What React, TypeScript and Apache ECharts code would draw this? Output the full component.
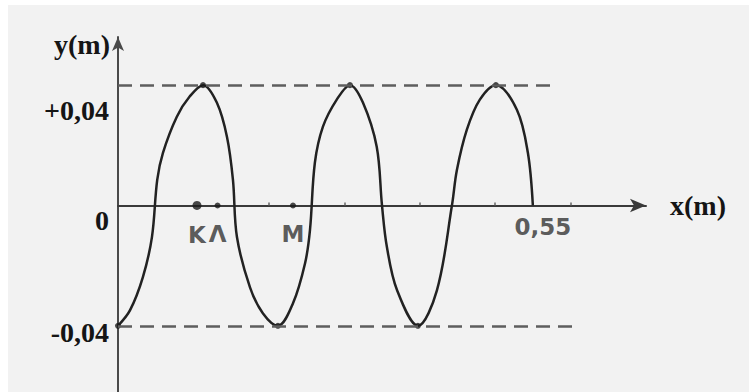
import React, { useEffect, useRef } from "react";
import * as echarts from "echarts";

// Wave profile y(x), sampled along the drawn curve
const curveX = [
  0, 0.016, 0.033, 0.045, 0.052, 0.0596, 0.078, 0.095, 0.1127, 0.131, 0.1445,
  0.1524, 0.1577, 0.175, 0.192, 0.212, 0.232, 0.248, 0.2545, 0.261, 0.2717,
  0.29, 0.3075, 0.3247, 0.343, 0.35, 0.3565, 0.37, 0.3976, 0.4228, 0.4427,
  0.4493, 0.4625, 0.4797, 0.501, 0.5288, 0.5434, 0.55,
];
const curveY = [
  -0.04, -0.0348, -0.0238, -0.0105, 0.0085, 0.0175, 0.0295, 0.0362, 0.04,
  0.0342, 0.0228, 0.0085, -0.0105, -0.0272, -0.0358, -0.04, -0.0325, -0.0192,
  -0.0082, 0.0142, 0.0262, 0.0352, 0.04, 0.0342, 0.0195, 0, -0.0138, -0.0282,
  -0.04, -0.0282, 0, 0.0118, 0.0252, 0.0352, 0.04, 0.0318, 0.0175, 0,
];

// Crests and troughs marked with a dot
const extremaX = [0, 0.1127, 0.212, 0.3075, 0.3976, 0.501];
const extremaY = [-0.04, 0.04, -0.04, 0.04, -0.04, 0.04];

// Named points on the x axis
const pointNames = ["K", "Λ", "M"];
const pointX = [0.1047, 0.132, 0.232];
const pointSizes = [9, 6, 6];

// Amplitude guide lines (level, end of the dashed line)
const guideLevels = [0.04, -0.04];
const guideEnds = [0.573, 0.603];

// Axis ticks and labels
const yTickValues = [0.04, 0, -0.04];
const yTickLabels = ["+0,04", "0", "-0,04"];
const xTickMarks = [0.2, 0.3, 0.4, 0.5, 0.6];
const xLabelValues = [0.55];
const xLabelTexts = ["0,55"];

const serifBold = {
  fontFamily: "Liberation Serif",
  fontWeight: "bold" as const,
  fontSize: 28,
  color: "#151515",
};

const handFont = {
  fontFamily: "DejaVu Sans",
  color: "#333",
};

export default function App() {
  const ref = useRef<HTMLDivElement>(null);

  useEffect(() => {
    if (!ref.current) return;
    const chart = echarts.init(ref.current, undefined, { renderer: "svg" });

    const yShift = [50, 30, 14];
    const rich: Record<string, object> = {};
    yShift.forEach((p, i) => {
      rich["p" + i] = { ...serifBold, padding: [p, 0, 0, 0] };
    });

    chart.setOption({
      animation: false,
      backgroundColor: "transparent",
      grid: {
        left: 118,
        right: 103,
        top: 37,
        bottom: 0,
        containLabel: false,
        outerBoundsMode: "none",
      },
      xAxis: {
        type: "value",
        min: 0,
        max: 0.7,
        name: "x(m)",
        nameLocation: "end",
        nameGap: 24,
        nameTextStyle: {
          ...serifBold,
          align: "left",
          verticalAlign: "middle",
          padding: [36, 0, 0, 0],
        },
        axisLine: {
          show: true,
          onZero: true,
          symbol: ["none", "arrow"],
          symbolSize: [10, 16],
          lineStyle: { color: "#3a3a3a", width: 2 },
        },
        axisTick: {
          show: true,
          inside: true,
          length: 3,
          customValues: xTickMarks,
          lineStyle: { color: "#666", width: 1.5 },
        },
        axisLabel: { show: false },
        splitLine: { show: false },
      },
      yAxis: {
        type: "value",
        min: -0.062,
        max: 0.056,
        name: "y(m)",
        nameLocation: "end",
        nameGap: -7,
        nameTextStyle: {
          ...serifBold,
          align: "right",
          verticalAlign: "middle",
          padding: [0, 8, 0, 0],
        },
        axisLine: {
          show: true,
          onZero: false,
          symbol: ["none", "arrow"],
          symbolSize: [9, 14],
          lineStyle: { color: "#4a4a4a", width: 2 },
        },
        axisTick: { show: false },
        axisLabel: {
          show: true,
          customValues: yTickValues,
          margin: 9,
          formatter: (v: number) => {
            const i = yTickValues.findIndex((y) => Math.abs(y - v) < 1e-9);
            return i >= 0 ? `{p${i}|${yTickLabels[i]}}` : "";
          },
          rich,
        },
        splitLine: { show: false },
      },
      series: [
        {
          type: "line",
          data: curveX.map((x, i) => [x, curveY[i]]),
          smooth: 0.35,
          showSymbol: false,
          lineStyle: { color: "#222", width: 2.5 },
          z: 3,
          markLine: {
            silent: true,
            symbol: ["none", "none"],
            label: { show: false },
            lineStyle: { color: "#5e5e5e", width: 2.5, type: [14, 8] },
            data: guideLevels.map((lv, i) => [
              { coord: [0, lv] },
              { coord: [guideEnds[i], lv] },
            ]),
          },
        },
        {
          type: "scatter",
          data: extremaX.map((x, i) => [x, extremaY[i]]),
          symbolSize: 6,
          itemStyle: { color: "#1a1a1a" },
          z: 4,
        },
        {
          type: "scatter",
          data: pointX.map((x, i) => ({
            value: [x, 0],
            name: pointNames[i],
            symbolSize: pointSizes[i],
          })),
          itemStyle: { color: "#1a1a1a" },
          label: {
            show: true,
            position: "bottom",
            distance: 14,
            formatter: (p: { name: string }) => p.name,
            ...handFont,
            fontWeight: "bold",
            fontSize: 23,
          },
          z: 5,
        },
        {
          // length marker written under the end of the wave
          type: "scatter",
          data: xLabelValues.map((x, i) => ({ value: [x, 0], name: xLabelTexts[i] })),
          symbolSize: 2,
          itemStyle: { color: "rgba(0,0,0,0)" },
          label: {
            show: true,
            position: "bottom",
            distance: 9,
            offset: [10, 0],
            formatter: (p: { name: string }) => p.name,
            ...handFont,
            fontWeight: "bold",
            fontSize: 23,
          },
          z: 5,
        },
      ],
    });

    return () => chart.dispose();
  }, []);

  return (
    <div
      style={{
        position: "fixed",
        left: 0,
        top: 0,
        width: 749,
        height: 392,
        background: "#ffffff",
      }}
    >
      <div
        style={{
          position: "absolute",
          left: 8,
          top: 5,
          right: 0,
          bottom: 0,
          background: "#f2f2f2",
        }}
      />
      <div
        ref={ref}
        style={{ position: "absolute", left: 0, top: 0, width: 749, height: 392 }}
      />
    </div>
  );
}
